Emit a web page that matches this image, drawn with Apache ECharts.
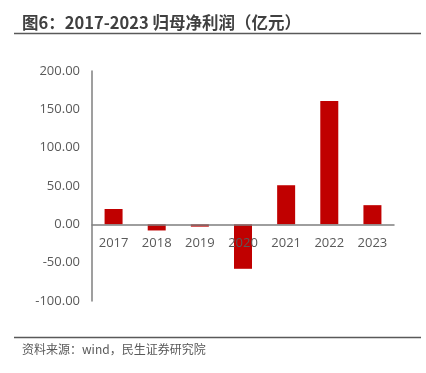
<!DOCTYPE html>
<html><head><meta charset="utf-8">
<script src="https://cdn.jsdelivr.net/npm/echarts@6/dist/echarts.min.js"></script>
<style>html,body{margin:0;padding:0;background:#fff}#c{width:426px;height:373px}</style>
</head><body><div id="c"></div>
<script>
const categories = ['2017','2018','2019','2020','2021','2022','2023'];
const profit = [20, -8, -3, -58, 51, 161, 25];
const yTicks = [-100, -50, 0, 50, 100, 150, 200];

const chart = echarts.init(document.getElementById('c'), null, {renderer:'canvas'});
chart.setOption({
  animation:false,
  grid:{left:92, right:32, top:71, bottom:72},
  xAxis:{type:'category', data:categories, offset:-76.5, z:5,
    axisLine:{onZero:false, lineStyle:{color:'#7f7f7f', width:1.5}},
    axisTick:{show:false},
    axisLabel:{color:'#595959', fontSize:13, fontFamily:'Open Sans', margin:12}},
  yAxis:{type:'value', min:yTicks[0], max:yTicks[yTicks.length-1], interval:50,
    axisLine:{show:true, lineStyle:{color:'#7f7f7f', width:1.5}},
    axisTick:{show:false}, splitLine:{show:false},
    axisLabel:{color:'#595959', fontSize:13, fontFamily:'Open Sans', margin:12,
      formatter:v=>v.toFixed(2)}},
  series:[{type:'bar', data:profit, barWidth:18, z:2, itemStyle:{color:'#c00000'}}],
  graphic:[
    {type:'text', left:22, top:14, style:{text:'图6：2017-2023 归母净利润（亿元）', fill:'#404040',
      font:'bold 16.5px "Noto Sans CJK SC", sans-serif'}},
    {type:'line', shape:{x1:14,y1:33.5,x2:421,y2:33.5}, style:{stroke:'#595959', lineWidth:1.5}},
    {type:'line', shape:{x1:14,y1:337.5,x2:421,y2:337.5}, style:{stroke:'#595959', lineWidth:1.5}},
    {type:'text', left:22, top:343, style:{text:'资料来源：wind，民生证券研究院', fill:'#595959',
      font:'12px "Noto Sans CJK SC", sans-serif'}}
  ]
});
</script></body></html>
